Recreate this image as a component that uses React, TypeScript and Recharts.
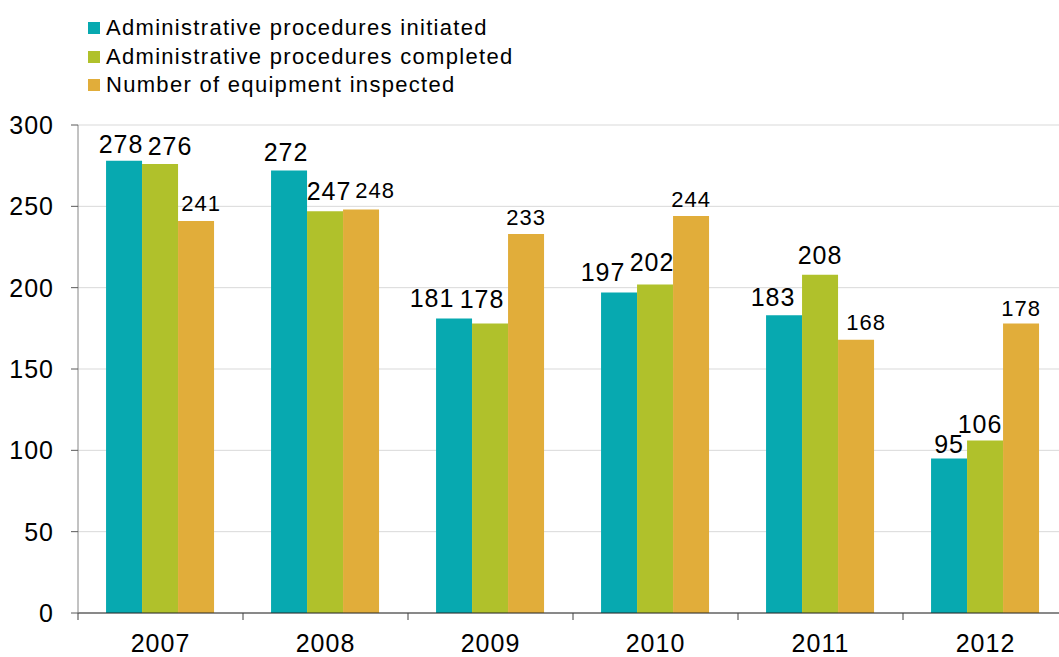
import { BarChart, Bar, XAxis, YAxis, CartesianGrid } from "recharts";

// values
const YEARS = ["2007", "2008", "2009", "2010", "2011", "2012"];
const INITIATED = [278, 272, 181, 197, 183, 95];
const COMPLETED = [276, 247, 178, 202, 208, 106];
const INSPECTED = [241, 248, 233, 244, 168, 178];
const Y_TICKS = [0, 50, 100, 150, 200, 250, 300];

// hand nudges of the value labels (like the moved labels in the original), px
const INITIATED_LABEL_DX = [-3, -3, -22, -16, -11, 0];
const COMPLETED_LABEL_DX = [10, 4, -8, -3, 0, -5];
const INSPECTED_LABEL_DX = [5, 14, 0, 0, 10, 0];
const INITIATED_LABEL_GAP = [8, 10, 12, 12, 9, 5];
const COMPLETED_LABEL_GAP = [9, 11, 15, 13, 11, 8];
const INSPECTED_LABEL_GAP = [10, 12, 9, 9, 10, 7];

const SERIES = [
  { key: "initiated", name: "Administrative procedures initiated", color: "#07a9b0", labelSize: 25, dx: INITIATED_LABEL_DX, gap: INITIATED_LABEL_GAP },
  { key: "completed", name: "Administrative procedures completed", color: "#b0c12b", labelSize: 25, dx: COMPLETED_LABEL_DX, gap: COMPLETED_LABEL_GAP },
  { key: "inspected", name: "Number of equipment inspected", color: "#e1ad3a", labelSize: 22, dx: INSPECTED_LABEL_DX, gap: INSPECTED_LABEL_GAP },
];

const CHART_W = 1068;
const Y_AXIS_W = 78;
const BAND = (CHART_W - Y_AXIS_W) / YEARS.length;

const data = YEARS.map((year, i) => ({
  year,
  initiated: INITIATED[i],
  completed: COMPLETED[i],
  inspected: INSPECTED[i],
}));

// category label plus tick mark on the left boundary of each band
const YearTick = (props: any) => {
  const { x, y, payload } = props;
  const bx = x - BAND / 2;
  return (
    <g>
      <line x1={bx} y1={y} x2={bx} y2={y + 7} stroke="#404040" strokeWidth={1} />
      <text x={x} y={y + 39} textAnchor="middle" fill="#000" fontSize={25}>
        {payload.value}
      </text>
    </g>
  );
};

const makeLabel = (size: number, dx: number[], gap: number[]) => (p: any) => {
  const { x, y, width, value, index } = p;
  return (
    <text x={x + width / 2 + (dx[index] || 0)} y={y - (gap[index] ?? 9)} textAnchor="middle" fill="#000" fontSize={size}>
      {value}
    </text>
  );
};

export default function App() {
  return (
    <div
      style={{
        position: "absolute",
        left: 0,
        top: 0,
        width: 1059,
        height: 657,
        overflow: "hidden",
        background: "#fff",
        fontFamily: "'Liberation Sans', Arial, sans-serif",
        letterSpacing: "1px",
      }}
    >
      <div style={{ position: "absolute", left: 88, top: 14, fontSize: 22, letterSpacing: "1.3px", lineHeight: "28.5px", color: "#000" }}>
        {SERIES.map((s) => (
          <div key={s.key} style={{ display: "flex", alignItems: "center" }}>
            <span style={{ width: 12, height: 12, background: s.color, marginRight: 6, display: "inline-block" }} />
            <span>{s.name}</span>
          </div>
        ))}
      </div>
      <BarChart
        width={CHART_W}
        height={657}
        data={data}
        margin={{ top: 125, right: 0, bottom: 0, left: 0 }}
        barCategoryGap="17%"
        barGap={0}
      >
        <CartesianGrid vertical={false} stroke="#d9d9d9" />
        <XAxis
          dataKey="year"
          height={44}
          axisLine={{ stroke: "#262626" }}
          tickLine={false}
          tickSize={0}
          tickMargin={0}
          tick={<YearTick />}
          interval={0}
        />
        <YAxis
          width={Y_AXIS_W}
          domain={[0, 300]}
          ticks={Y_TICKS}
          axisLine={{ stroke: "#868686" }}
          tickLine={{ stroke: "#595959" }}
          tickSize={7}
          tickMargin={17}
          tick={{ fill: "#000", fontSize: 25 }}
        />
        {SERIES.map((s) => (
          <Bar
            key={s.key}
            dataKey={s.key}
            name={s.name}
            fill={s.color}
            isAnimationActive={false}
            label={makeLabel(s.labelSize, s.dx, s.gap)}
          />
        ))}
      </BarChart>
    </div>
  );
}
